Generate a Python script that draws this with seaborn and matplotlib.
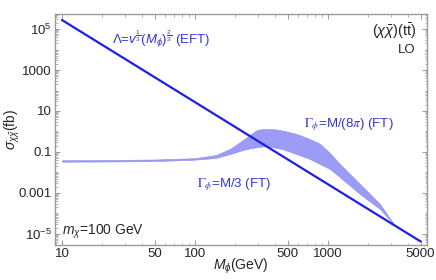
import seaborn as sns
import matplotlib.pyplot as plt
import pandas as pd
import numpy as np

# EFT line: sigma ~ M^-4
eft_mass = [10, 5000]
eft_sigma = [2.75e5, 4.3e-6]

# FT band between Gamma = M/3 and Gamma = M/(8 pi)
band_mass = [10, 20, 50, 100, 144, 184, 231, 260, 292, 327, 389, 462, 583,
             734, 874, 1040, 1236, 1747, 2470, 3200]
band_lower = [0.0335, 0.0342, 0.036, 0.042, 0.0513, 0.0794, 0.126, 0.151,
              0.17, 0.19, 0.17, 0.135, 0.079, 0.0457, 0.0257, 0.0148,
              0.0059, 0.00089, 0.000166, 2.6e-5]
band_upper = [0.0395, 0.0405, 0.043, 0.05, 0.0708, 0.141, 0.389, 0.69,
              1.17, 1.32, 1.32, 1.10, 0.76, 0.43, 0.25, 0.089, 0.0257,
              0.00275, 0.00029, 2.6e-5]

x_ticks = [10, 50, 100, 500, 1000, 5000]
y_ticks = [1e5, 1000, 10, 0.1, 0.001, 1e-5]
y_tick_labels = ["$10^5$", "1000", "10", "0.1", "0.001", "$10^{-5}$"]

sns.set_style("ticks")
plt.rcParams["font.family"] = ["Liberation Sans", "DejaVu Sans"]
plt.rcParams["mathtext.fontset"] = "custom"
plt.rcParams["mathtext.rm"] = "Liberation Sans"
plt.rcParams["mathtext.it"] = "Liberation Sans:italic"
plt.rcParams["mathtext.bf"] = "Liberation Sans:bold"

line_col = "#1e1ee8"
band_col = "#9c9cf6"
edge_col = "#8c8cf2"
text_col = "#3434dc"
frame_col = "#9a9a9a"

fig = plt.figure(figsize=(4.36, 2.80), dpi=100)
ax = fig.add_axes([0.125, 0.125, 0.855, 0.825])

ax.fill_between(band_mass, band_lower, band_upper, color=band_col,
                edgecolor=edge_col, linewidth=0.4, zorder=2)

eft = pd.DataFrame({"M": eft_mass, "sigma": eft_sigma})
sns.lineplot(data=eft, x="M", y="sigma", ax=ax, color=line_col, lw=1.6, zorder=3)

ax.set_xscale("log")
ax.set_yscale("log")
ax.set_xlim(8.79, 5610)
ax.set_ylim(2.9e-6, 5.4e5)

ax.set_xticks(x_ticks)
ax.set_xticklabels([str(t) for t in x_ticks])
ax.set_yticks(y_ticks)
ax.set_yticklabels(y_tick_labels)
ax.yaxis.set_minor_locator(plt.matplotlib.ticker.LogLocator(base=10, subs=np.arange(1, 10), numticks=30))
ax.yaxis.set_minor_formatter(plt.NullFormatter())
ax.xaxis.set_minor_formatter(plt.NullFormatter())

ax.tick_params(which="both", direction="in", top=True, right=True,
               color=frame_col, labelsize=9.5, pad=2)
ax.tick_params(which="major", length=3.5, width=0.7)
ax.tick_params(which="minor", length=1.8, width=0.5)
for s in ax.spines.values():
    s.set_color(frame_col)
    s.set_linewidth(1.0)

ax.set_xlabel(r"$M_\phi$(GeV)", fontsize=10)
ax.set_ylabel(r"$\sigma_{\chi\bar{\chi}}$(fb)", fontsize=10)
ax.xaxis.set_label_coords(0.5, -0.05)
ax.yaxis.set_label_coords(-0.088, 0.5)

ax.text(0.155, 0.89, r"$\Lambda$=$v^{\frac{1}{3}}$($M_\phi$)$^{\frac{2}{3}}$ (EFT)",
        transform=ax.transAxes, color=text_col, fontsize=9.5, va="center")
ax.text(0.67, 0.52, r"$\Gamma_\phi$=M/(8$\pi$) (FT)", transform=ax.transAxes,
        color=text_col, fontsize=9.5, va="center", math_fontfamily="stix")
ax.text(0.383, 0.262, r"$\Gamma_\phi$=M/3 (FT)", transform=ax.transAxes,
        color=text_col, fontsize=9.5, va="center", math_fontfamily="stix")
ax.text(0.972, 0.926, r"$(\chi\bar{\chi})$(t$\bar{\mathrm{t}}$)", transform=ax.transAxes,
        ha="right", va="center", fontsize=10.5)
ax.text(0.968, 0.844, "LO", transform=ax.transAxes, ha="right", va="center", fontsize=9.5)
ax.text(0.019, 0.056, r"$m_\chi$=100 GeV", transform=ax.transAxes, va="center", fontsize=10)

fig.savefig("out.png", dpi=100)
